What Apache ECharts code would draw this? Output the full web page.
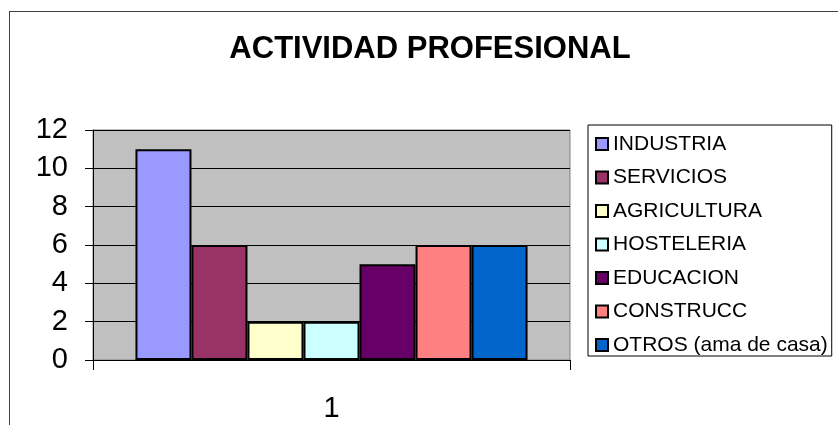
<!DOCTYPE html>
<html>
<head>
<meta charset="utf-8">
<script src="https://cdn.jsdelivr.net/npm/echarts@6/dist/echarts.min.js"></script>
<style>
  html, body { margin: 0; padding: 0; background: #fff; }
  #frame { position: absolute; left: 9px; top: 11px; width: 840px; height: 420px; border: 1px solid #404040; box-sizing: border-box; }
  #chart { position: absolute; left: 0; top: 0; width: 838px; height: 425px; }
</style>
</head>
<body>
<div id="frame"></div>
<div id="chart"></div>
<script>
// datos
var categorias = ['1'];
var actividades = ['INDUSTRIA', 'SERVICIOS', 'AGRICULTURA', 'HOSTELERIA', 'EDUCACION', 'CONSTRUCC', 'OTROS (ama de casa)'];
var valores = [11, 6, 2, 2, 5, 6, 6];
var colores = ['#9999FF', '#993366', '#FFFFCC', '#CCFFFF', '#660066', '#FF8080', '#0066CC'];

var fuente = 'Liberation Sans';
var chart = echarts.init(document.getElementById('chart'));

var series = actividades.map(function (nombre, i) {
    return {
        name: nombre,
        type: 'bar',
        data: [valores[i]],
        barGap: '0%',
        barCategoryGap: '17.8%',
        itemStyle: {
            color: colores[i],
            borderColor: '#000',
            borderWidth: 2
        }
    };
});

var option = {
    animation: false,
    title: {
        text: 'ACTIVIDAD PROFESIONAL',
        left: 425,
        textAlign: 'center',
        top: 29,
        textStyle: {
            fontFamily: fuente,
            fontSize: 31,
            fontWeight: 'bold',
            color: '#000'
        }
    },
    legend: {
        orient: 'vertical',
        left: 588,
        top: 125,
        itemWidth: 12,
        itemHeight: 12,
        itemGap: 11.5,
        icon: 'rect',
        padding: [8, 4, 0, 7],
        borderColor: '#000',
        borderWidth: 1,
        textStyle: {
            fontFamily: fuente,
            fontSize: 21,
            color: '#000',
            lineHeight: 22
        },
        data: actividades
    },
    grid: {
        left: 93,
        right: 268,
        top: 130,
        bottom: 65,
        show: true,
        backgroundColor: '#C0C0C0',
        borderColor: '#808080',
        borderWidth: 1
    },
    xAxis: {
        type: 'category',
        data: categorias,
        axisLine: { lineStyle: { color: '#000', width: 1 } },
        axisTick: { show: true, length: 10, lineStyle: { color: '#000' } },
        axisLabel: {
            margin: 34,
            fontFamily: fuente,
            fontSize: 29,
            color: '#000'
        }
    },
    yAxis: {
        type: 'value',
        min: 0,
        max: 12,
        interval: 2,
        axisLine: { show: true, lineStyle: { color: '#000', width: 1 } },
        axisTick: { show: true, length: 8, lineStyle: { color: '#000' } },
        axisLabel: {
            margin: 25,
            fontFamily: fuente,
            fontSize: 29,
            color: '#000'
        },
        splitLine: { show: true, lineStyle: { color: '#000', width: 1 } }
    },
    series: series
};
chart.setOption(option);
</script>
</body>
</html>
